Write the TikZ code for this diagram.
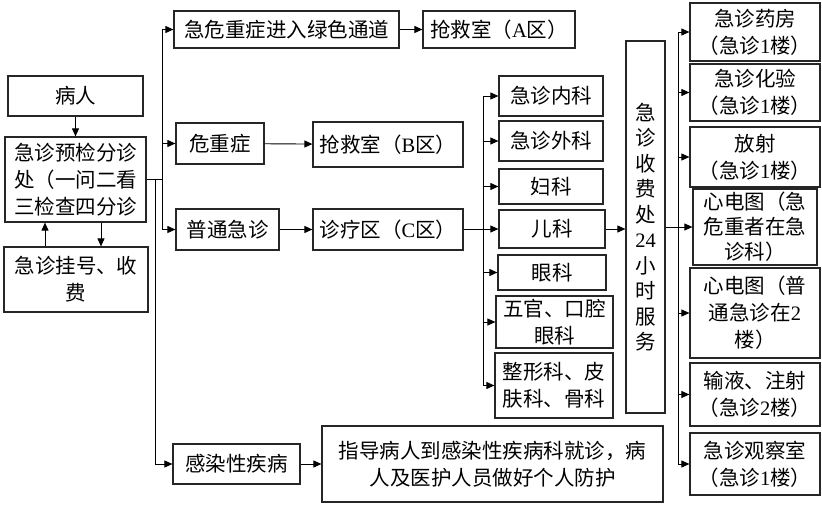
\documentclass[tikz,border=0pt]{standalone}
\usepackage{fontspec}
\setmainfont{Noto Sans CJK SC}
\newfontfamily\lat{Liberation Serif}
\newcommand{\en}[1]{{\lat #1}}
\usepackage{tikz}
\usetikzlibrary{arrows.meta}

\begin{document}
\begin{tikzpicture}[x=1pt,y=-1pt,
    box/.style={draw=black!85,line width=1.2pt,inner sep=0pt,align=center,font=\fontsize{20.5}{27}\selectfont},
    arr/.style={-{Triangle[length=8pt,width=7pt]},line width=0.9pt}]

    \useasboundingbox (0,0) rectangle (822,505);

    \node[box,minimum width=135pt,minimum height=40pt] (bingren) at (75.5,96) {病人};
    \node[box,minimum width=141pt,minimum height=85pt] (yujian) at (75.5,179.5) {急诊预检分诊\\处（一问二看\\三检查四分诊};
    \node[box,minimum width=144pt,minimum height=65pt] (guahao) at (76,279.5) {急诊挂号、收\\费};

    \node[box,minimum width=225pt,minimum height=37pt] (lvse) at (286.5,29.5) {急危重症进入绿色通道};
    \node[box,minimum width=152pt,minimum height=37pt] (qiangA) at (499,29.5) {抢救室（\en{A}区）};
    \node[box,minimum width=88pt,minimum height=41pt] (weizhong) at (220,143.5) {危重症};
    \node[box,minimum width=150pt,minimum height=45pt] (qiangB) at (388,144.5) {抢救室（\en{B}区）};
    \node[box,minimum width=103pt,minimum height=41pt] (putong) at (227.5,229.5) {普通急诊};
    \node[box,minimum width=150pt,minimum height=41pt] (zhenliao) at (388,229.5) {诊疗区（\en{C}区）};
    \node[box,minimum width=127pt,minimum height=40pt] (ganran) at (236.5,464) {感染性疾病};
    \node[box,minimum width=341pt,minimum height=76pt] (zhidao) at (492.5,464) {指导病人到感染性疾病科就诊，病\\人及医护人员做好个人防护};

    \node[box,minimum width=104pt,minimum height=40pt] (neike) at (551,96) {急诊内科};
    \node[box,minimum width=104pt,minimum height=40pt] (waike) at (551,141) {急诊外科};
    \node[box,minimum width=104pt,minimum height=35pt] (fuke) at (551,186.5) {妇科};
    \node[box,minimum width=106pt,minimum height=38pt] (erke) at (552,229) {儿科};
    \node[box,minimum width=108pt,minimum height=35pt] (yanke) at (552,272.5) {眼科};
    \node[box,minimum width=117pt,minimum height=52pt] (wuguan) at (554.5,322) {五官、口腔\\眼科};
    \node[box,minimum width=118pt,minimum height=65pt] (zhengxing) at (554,385.5) {整形科、皮\\肤科、骨科};

    \node[box,minimum width=39pt,minimum height=372pt,font=\fontsize{20.5}{25.5}\selectfont] (shoufei) at (645.5,227) {急\\诊\\收\\费\\处\\\en{24}\\小\\时\\服\\务};

    \node[box,minimum width=130pt,minimum height=58pt] (yaofang) at (755,32) {急诊药房\\（急诊\en{1}楼）};
    \node[box,minimum width=130pt,minimum height=57pt] (huayan) at (755,92.5) {急诊化验\\（急诊\en{1}楼）};
    \node[box,minimum width=130pt,minimum height=60pt] (fangshe) at (755,157) {放射\\（急诊\en{1}楼）};
    \node[box,minimum width=124pt,minimum height=76pt,font=\fontsize{20.5}{25}\selectfont] (xindian1) at (755,227) {心电图（急\\危重者在急\\诊科）};
    \node[box,minimum width=130pt,minimum height=90pt] (xindian2) at (755,313) {心电图（普\\通急诊在\en{2}\\楼）};
    \node[box,minimum width=130pt,minimum height=63pt] (shuye) at (755,394.5) {输液、注射\\（急诊\en{2}楼）};
    \node[box,minimum width=130pt,minimum height=62pt] (guancha) at (755,464) {急诊观察室\\（急诊\en{1}楼）};

    \draw[arr] (bingren) -- (yujian);
    \draw[arr] (45,0 |- guahao.north) -- (45,0 |- yujian.south);
    \draw[arr] (101,0 |- yujian.south) -- (101,0 |- guahao.north);

    \coordinate (split) at (162,179.5);
    \coordinate (split2) at (155,179.5);
    \draw[line width=0.9pt] (yujian.east) -- (split);
    \draw[line width=0.9pt] (split |- lvse.west) -- (split |- putong.west);
    \foreach \n in {lvse,weizhong,putong} \draw[arr] (split |- \n.west) -- (\n.west);
    \draw[arr] (split2) |- (ganran.west);

    \draw[arr] (lvse) -- (qiangA);
    \draw[arr] (weizhong) -- (qiangB);
    \draw[arr] (putong) -- (zhenliao);
    \draw[arr] (ganran) -- (zhidao);

    \coordinate (ctrunk) at (483,229.5);
    \draw[line width=1.8pt] (zhenliao.east) -- (ctrunk);
    \draw[line width=0.9pt] (ctrunk |- neike.west) -- (ctrunk |- zhengxing.west);
    \foreach \n in {neike,waike,fuke,erke,yanke,wuguan,zhengxing} \draw[arr] (ctrunk |- \n.west) -- (\n.west);
    \draw[arr] (erke.east) -- (erke.east -| shoufei.west);

    \coordinate (rtrunk) at (678,227);
    \draw[line width=0.9pt] (rtrunk |- yaofang.west) -- (rtrunk |- guancha.west);
    \foreach \n in {yaofang,huayan,fangshe,xindian2,shuye,guancha} \draw[arr] (rtrunk |- \n.west) -- (\n.west);
    \draw[arr] (shoufei.east) -- (xindian1.west);

\end{tikzpicture}
\end{document}
